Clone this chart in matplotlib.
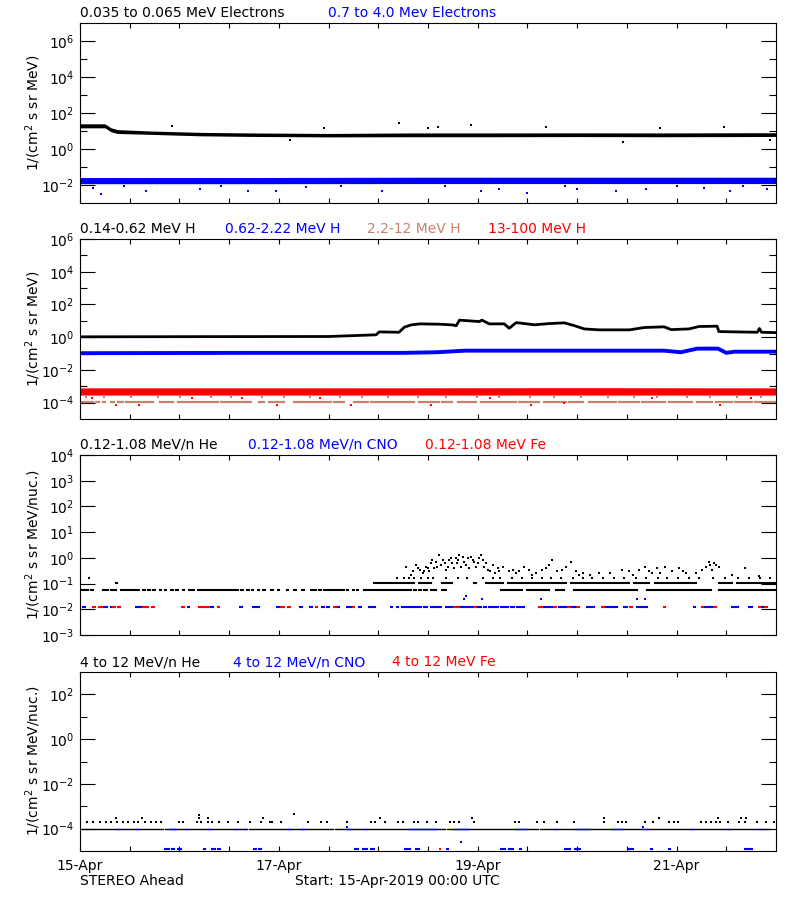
import math
import matplotlib
matplotlib.use('Agg')
import matplotlib.pyplot as plt
from matplotlib.ticker import FixedLocator, NullFormatter

plt.rcParams['font.family'] = ['DejaVu Sans']
plt.rcParams['mathtext.fontset'] = 'dejavusans'

BLACK = '#000000'
BLUE = '#0000ff'
RED = '#ff0000'
SIENNA = '#c8826a'

# ---------------- DATA (time axis: hours since 15-Apr-2019 00:00 UTC) ----------------
# Panel 1: electrons
p1_e_h = [0, 6, 7.5, 9, 17, 29, 41, 60, 80, 100, 120, 140, 160, 168]
p1_e_lo = [15, 15, 9, 7.3, 6.5, 5.4, 5.0, 4.7, 4.8, 4.8, 4.9, 4.8, 4.9, 5.0]
p1_e_hi = [25, 25, 15, 12, 10, 8.4, 7.8, 7.3, 7.8, 7.8, 7.9, 7.8, 8.0, 8.0]
p1_e_out_h = [22.2, 59.0, 77.1, 84.1, 86.5, 94.5, 112.5, 140.0, 155.4, 50.6, 131.0, 166.5]
p1_e_out_v = [18, 15, 29, 15, 17, 22, 16.6, 15, 16.6, 3.3, 2.6, 3.3]

p1_he_h = [0, 40, 80, 120, 168]
p1_he_lo = [0.0118, 0.0118, 0.012, 0.012, 0.012]
p1_he_hi = [0.026, 0.026, 0.027, 0.027, 0.027]
p1_he_out_h = [5.1, 3.1, 15.9, 28.9, 40.5, 47.2, 54.5, 73.0, 96.9, 101.2, 108.0, 120.0,
               129.4, 136.6, 150.6, 156.9, 165.8, 10.5, 34.0, 63.0, 88.0, 117.0, 144.0, 160.0]
p1_he_out_v = [0.0033, 0.0071, 0.0048, 0.0062, 0.0048, 0.0048, 0.0080, 0.0048, 0.0048, 0.0062,
               0.0038, 0.0062, 0.0048, 0.0062, 0.0071, 0.0048, 0.0062, 0.0088, 0.0090, 0.0088,
               0.0090, 0.0088, 0.0090, 0.0088]

# Panel 2: protons
p2_h1_h = [0, 30, 60, 68, 71.5, 72.2, 77, 78.3, 80, 82, 86.8, 90, 90.8, 91.6, 96.4, 97, 98.8,
           102.4, 103.6, 105.3, 109.7, 113.3, 116.9, 119.3, 121.7, 125.3, 132.6, 136.2, 141,
           142.7, 147, 149.4, 153.8, 154.2, 163.5, 164, 164.5, 168]
p2_h1_v = [1.05, 1.08, 1.1, 1.3, 1.4, 2.1, 2.0, 4.1, 5.7, 6.5, 6.2, 5.6, 5.0, 11, 9, 11, 6.5,
           6.5, 3.5, 7.8, 5.7, 6.8, 7.5, 5.1, 3.2, 2.8, 2.8, 3.9, 4.3, 2.9, 3.2, 4.5, 4.7, 2.2,
           2.0, 3.4, 2.0, 1.9]
p2_h2_h = [0, 40, 78, 86, 93, 112, 141, 145, 149, 154, 156, 158, 168]
p2_h2_v = [0.105, 0.11, 0.11, 0.12, 0.15, 0.15, 0.15, 0.12, 0.2, 0.2, 0.11, 0.13, 0.13]
p2_h4_h = [0, 60, 120, 168]
p2_h4_lo = [2.9e-4, 2.9e-4, 2.9e-4, 2.9e-4]
p2_h4_hi = [8.0e-4, 8.0e-4, 8.2e-4, 8.0e-4]
p2_h4_out_h = [8.7, 14.2, 47.5, 65.3, 84.8, 108.9, 116.9, 154.5, 3.0, 27.0, 39.0, 58.0, 99.0, 138.0, 162.0]
p2_h4_out_v = [7.6e-5, 7.6e-5, 7.6e-5, 7.6e-5, 7.6e-5, 7.6e-5, 1.0e-4, 7.6e-5,
               2.0e-4, 2.0e-4, 1.8e-4, 2.0e-4, 1.8e-4, 2.0e-4, 1.8e-4]
p2_h3_segs = [(0.3, 3.1), (3.9, 4.5), (5.5, 6.1), (7.5, 8.2), (9.2, 10.4), (11.2, 16.4),
              (17.0, 17.6), (19.2, 22.4), (23.6, 33.3), (34.1, 37.3), (37.9, 41.3),
              (43.3, 44.5), (45.7, 49.3), (51.7, 55.7), (56.2, 60.6), (61.4, 63.8),
              (66.2, 67.0), (67.7, 69.4), (70.2, 71.4), (72.0, 76.5), (77.1, 80.7),
              (81.9, 86.7), (87.5, 89.9), (91.2, 95.6), (96.8, 105.2), (106.0, 110.8),
              (112.0, 117.3), (118.1, 121.3), (122.9, 129.3), (130.1, 134.9), (135.7, 141.3),
              (142.1, 147.8), (149.0, 152.6), (153.4, 157.4), (158.2, 162.2), (163.0, 167.8)]
p2_h3_level = 1.05e-4
p2_h3_dot_h = [1.5, 5.8, 12.3, 18.9, 24.2, 31.7, 36.5, 43.9, 49.2, 55.6, 62.8, 68.1, 74.4,
               81.7, 88.3, 95.9, 101.2, 108.6, 114.3, 120.9, 127.5, 133.8, 139.2, 146.6,
               152.1, 158.7, 164.3]
p2_h3_dot_level = 2.1e-4

# Panel 3: 0.12-1.08 MeV/n ions
p3_he_l1 = 0.055
p3_he_l1_segs = [(0, 1.1), (1.5, 1.9), (2.7, 3.1), (5.5, 6.8), (7.6, 8.0), (8.4, 8.8), (10, 12.4),
                 (12.8, 13.2), (13.8, 14.2), (15.2, 15.6), (16.4, 16.8), (17.6, 18), (19.2, 19.6),
                 (20.4, 20.8), (22, 22.4), (23.2, 23.6), (24.8, 25.2), (26.3, 26.7), (27.2, 27.6),
                 (28.4, 29.1), (29.6, 30), (30.4, 31.2), (31.6, 38.1), (38.9, 39.3), (40.3, 40.7),
                 (41.4, 41.8), (42.9, 43.3), (44.2, 44.6), (46.1, 46.5), (47.7, 48.1), (49.9, 50.3),
                 (51.7, 52.1), (53.7, 54.1), (55.7, 56.1), (56.5, 56.9), (57.7, 58.1), (58.8, 63.8),
                 (64.4, 64.8), (65.8, 66.2), (66.8, 67.2), (68.6, 79.8), (80.6, 81), (81.8, 82.2),
                 (83, 83.8), (84.7, 85.9), (87.5, 88.3), (101.6, 106.8), (108, 113.2),
                 (114.8, 116.8), (119.2, 134.5), (136.9, 152.2), (154.2, 164.2), (164.6, 167.8)]
p3_he_l2 = 0.11
p3_he_l2_segs = [(8.8, 8.9), (36.9, 37.0), (46.3, 46.4), (64.2, 64.3), (71, 80.7), (81.9, 84.7),
                 (87.5, 89.9), (95.2, 95.6), (98, 102), (103.2, 117.3), (118.5, 132.5),
                 (133.7, 137.3), (138.9, 148.6), (154.2, 157.4), (158.6, 167.8)]
p3_he_l3 = 0.165
p3_he_l3_h = [2.2, 76.5, 78.2, 79.5, 80.6, 82.3, 84.0, 85.2, 88.4, 91.2, 93.5, 97.3, 99.8, 101.5,
              104.2, 106.6, 109.1, 111.5, 113.8, 116.2, 118.9, 121.4, 123.7, 126.3, 129.0, 131.2,
              134.1, 136.6, 139.4, 141.8, 144.3, 147.0, 149.5, 152.8, 155.6, 158.9, 161.4, 164.2,
              166.5]
p3_he_evt_h = [78.7, 79.9, 81.5, 82.7, 83.5, 84.7, 85.5, 85.9, 86.7, 87.1, 88.3, 89.1, 89.9, 90.8,
               91.6, 92.0, 92.8, 93.6, 94.4, 95.2, 96.0, 96.8, 97.6, 98.4, 99.6, 100.8, 102.0,
               103.6, 105.2, 107.2, 108.4, 110.0, 111.6, 113.2, 114.0, 115.2, 116.4, 117.2, 118.5,
               119.7, 121.3, 125.3, 130.9, 132.5, 134.9, 136.5, 138.1, 139.3, 141.3, 142.9, 144.6,
               146.2, 148.6, 151.0, 151.8, 152.6, 153.4, 154.2, 157.4, 160.6, 163.8,
               80.3, 81.0, 82.0, 83.0, 84.0, 84.3, 85.0, 86.2, 87.6, 88.0, 88.8, 89.5, 90.2, 91.0,
               91.3, 92.4, 93.2, 94.0, 94.8, 95.6, 96.4, 97.2, 98.0, 99.0, 100.2, 101.2, 104.5,
               106.0, 109.2, 112.4, 120.5, 123.0, 128.0, 133.5, 137.3, 140.0, 145.5, 150.2, 152.0,
               153.0]
p3_he_evt_v = [0.46, 0.22, 0.40, 0.26, 0.46, 0.62, 0.40, 0.72, 1.3, 0.54, 0.35, 0.84, 0.62, 0.98,
               1.3, 0.46, 0.72, 0.98, 1.1, 0.72, 0.62, 1.3, 0.46, 0.35, 0.54, 0.40, 0.46,
               0.30, 0.26, 0.46, 0.35, 0.26, 0.35, 0.54, 0.84, 0.30, 0.35, 0.46, 0.72,
               0.30, 0.26, 0.26, 0.35, 0.30, 0.35, 0.46, 0.26, 0.40, 0.46, 0.30, 0.40,
               0.26, 0.26, 0.46, 0.72, 0.35, 0.54, 0.46, 0.22, 0.40, 0.19,
               0.30, 0.54, 0.35, 0.30, 0.40, 0.30, 0.84, 0.46, 0.84, 0.62, 0.46, 1.0, 0.40, 0.62,
               0.84, 1.1, 0.54, 0.40, 0.84, 0.46, 0.98, 0.84, 0.62, 0.30, 0.26, 0.30, 0.35,
               0.30, 0.22, 0.40, 0.22, 0.22, 0.26, 0.22, 0.30, 0.26, 0.30, 0.35, 0.54,
               0.62]
p3_low_level = 0.012
p3_cno_segs = [(0.7, 1.3), (5.8, 6.4), (7.6, 8.0), (13.6, 15.2), (26, 26.4), (31.6, 32), (38.6, 39),
               (41.7, 43.3), (47.5, 48.1), (53.2, 53.6), (55.6, 56), (58.4, 58.8), (59.6, 60),
               (62.2, 62.6), (64.4, 65.4), (67.4, 67.8), (69.8, 70.2), (70.8, 71.2), (75, 75.4),
               (76.4, 76.8), (77.8, 80.6), (81, 82.2), (83, 83.7), (84.7, 87.1), (88.3, 89.9),
               (91.5, 94.7), (95.9, 96.7), (97.6, 98), (98.8, 100.8), (101.6, 103.2), (104, 104.8),
               (105.6, 107.2), (111.6, 114), (115.6, 117.6), (118.4, 119.6), (122.4, 124),
               (126.9, 129.7), (131.3, 132.1), (134.5, 136.9), (148.1, 148.5), (150.9, 152.6),
               (157.4, 157.8), (158.4, 158.8), (161.4, 162.2), (164.6, 165)]
p3_fe_segs = [(3.1, 3.7), (4.7, 5.3), (8.0, 8.4), (9.2, 9.6), (15.2, 16.4), (17.3, 17.8),
              (24.6, 25.1), (28.8, 31.2), (33.2, 33.5), (48.5, 49.3), (50.3, 50.7), (56.9, 57.3),
              (61.4, 61.8), (65.8, 66.2), (90.3, 91.5), (95, 95.5), (110.8, 111.6), (114.3, 114.8),
              (117.8, 118.3), (120, 120.4), (126, 126.5), (132.7, 133.3), (140.9, 141.3),
              (150.1, 150.5), (153, 153.6), (163.8, 164.2), (165.4, 165.8)]
p3_cno_hi_h = [92.7, 93.1, 97.0, 111.2, 134.5, 136.3]
p3_cno_hi_v = [0.026, 0.032, 0.026, 0.026, 0.026, 0.026]

# Panel 4: 4-12 MeV/n ions
p4_he_l1 = 2.0e-4
p4_he_l1_h = [1.7, 3.1, 4.9, 6.3, 7.6, 9.0, 10.3, 11.6, 13.0, 14.1, 15.7, 17.1, 18.4, 19.5, 23.8,
              24.9, 28.2, 29.2, 30.9, 31.9, 33.6, 35.7, 38.2, 41.1, 43.8, 45.8, 46.3, 48.5, 55.0,
              58.2, 59.5, 64.4, 70.3, 71.2, 73.6, 76.8, 77.9, 80.6, 81.7, 83.8, 86.0, 89.2, 90.3,
              91.4, 95.2, 104.9, 106.0, 110.3, 111.9, 115.2, 119.3, 126.5, 129.8, 130.9, 131.9,
              136.3, 138.4, 142.2, 143.3, 144.4, 150.0, 151.2, 152.3, 153.4, 154.6, 156.3, 159.0,
              160.6, 163.3, 165.5, 167.5]
p4_he_hi_h = [8.7, 15.0, 28.7, 30.9, 44.2, 51.7, 72.5, 94.6, 126.5, 139.8, 153.9, 159.5, 160.8, 28.7]
p4_he_hi_v = [3.1e-4, 3.1e-4, 3.1e-4, 3.1e-4, 3.1e-4, 4.3e-4, 3.1e-4, 3.1e-4, 3.1e-4, 3.1e-4,
              3.1e-4, 3.1e-4, 3.1e-4, 4.0e-4]
p4_line_level = 1.0e-4
p4_he_line_segs = [(0.5, 20), (20.6, 40.2), (40.8, 61), (61.5, 88), (88.6, 110.5), (111, 136),
                   (136.6, 166.5)]
p4_cno_line_segs = [(9.0, 9.4), (13.6, 14), (21.7, 22.1), (22.8, 23.2), (25.5, 25.9), (30.9, 31.3),
                    (37.4, 37.8), (39.5, 39.9), (50.3, 50.7), (53.6, 54), (64.4, 65.5), (68.7, 69.1),
                    (79.5, 86), (90.3, 93.6), (104.9, 107.6), (114.6, 115), (119.5, 122.8),
                    (128.2, 130.9), (135.8, 136.8), (147.6, 148), (156.3, 156.7), (163.9, 164.3)]
p4_low_level = 1.2e-5
p4_cno_low_segs = [(3.6, 3.7), (8.2, 8.3), (20.6, 21.4), (22.2, 22.6), (23.6, 24.4), (30, 30.1),
                   (31.9, 32.6), (33.2, 33.9), (39.5, 39.6), (41.9, 42.6), (43.2, 43.8), (48.2, 48.3),
                   (50.9, 51.0), (57.9, 58.0), (62, 62.1), (66.3, 67.2), (68.4, 69.2), (70.2, 70.9),
                   (78.4, 79.6), (81.2, 81.9), (84.4, 84.5), (88.7, 88.8), (91.4, 91.5), (97.4, 97.5),
                   (101.7, 102.6), (103.5, 104.4), (106.3, 106.4), (111.4, 111.5), (114.1, 114.2),
                   (117.1, 118.2), (119.4, 120.6), (123.8, 123.9), (132.3, 133.6), (137.9, 138.0),
                   (142.2, 142.3), (146.5, 146.6), (152.2, 152.3), (155.7, 155.8), (160.6, 162.2),
                   (164.4, 164.5)]
p4_cno_pts_h = [92.0, 64.4, 136.0]
p4_cno_pts_v = [2.5e-5, 1.2e-4, 1.2e-4]
p4_fe_pts_h = [86.9]
p4_fe_pts_v = [1.2e-5]

xtick_hours = [0, 12, 24, 36, 48, 60, 72, 84, 96, 108, 120, 132, 144, 156]
xtick_labels = ['15-Apr', '', '', '', '17-Apr', '', '', '', '19-Apr', '', '', '', '21-Apr', '']

# ---------------- FIGURE ----------------
W, H = 800, 900
fig = plt.figure(figsize=(8, 9), dpi=100)
FS = 10


def box(top, bottom):
    return [80 / W, 1 - bottom / H, (776 - 80) / W, (bottom - top) / H]


def ftext(x, y, s, color=BLACK, ha='left', **kw):
    fig.text(x / W, 1 - y / H, s, color=color, ha=ha, va='center', fontsize=FS, **kw)


def dots(ax, h, v, color, ms=1.7):
    ax.plot(h, v, ls='none', marker='s', ms=ms, mew=0, color=color)


def segs(ax, pairs, level, color, lw=1.5):
    ax.hlines([level] * len(pairs), [a for a, b in pairs], [b for a, b in pairs],
              colors=color, lw=lw, capstyle='projecting')


def style(ax, ylim, major, minor, labels_x=False):
    ax.set_xlim(0, 168)
    ax.set_yscale('log')
    ax.set_ylim(*ylim)
    ax.yaxis.set_major_locator(FixedLocator(major))
    ax.yaxis.set_minor_locator(FixedLocator(minor))
    ax.yaxis.set_minor_formatter(NullFormatter())
    ax.set_yticklabels(['$10^{%d}$' % int(round(math.log10(m))) for m in major])
    ax.set_xticks(xtick_hours)
    if labels_x:
        ax.set_xticklabels(xtick_labels)
    else:
        ax.set_xticklabels([])
    ax.tick_params(axis='y', which='major', direction='in', length=10.8, width=0.8,
                   left=True, right=True, labelsize=FS, pad=4)
    ax.tick_params(axis='y', which='minor', direction='in', length=5, width=0.8,
                   left=True, right=True)
    ax.tick_params(axis='x', which='major', direction='in', length=3.6, width=0.8,
                   top=True, bottom=True, labelsize=FS, pad=6)
    for sp in ax.spines.values():
        sp.set_linewidth(0.8)
    return ax


# Panel 1
ax1 = fig.add_axes(box(23, 203))
style(ax1, (1e-3, 1e7), [1e-2, 1e0, 1e2, 1e4, 1e6], [1e-1, 1e1, 1e3, 1e5])
ax1.fill_between(p1_e_h, p1_e_lo, p1_e_hi, color=BLACK, lw=0)
dots(ax1, p1_e_out_h, p1_e_out_v, BLACK)
ax1.fill_between(p1_he_h, p1_he_lo, p1_he_hi, color=BLUE, lw=0)
dots(ax1, p1_he_out_h, p1_he_out_v, BLUE)

# Panel 2
ax2 = fig.add_axes(box(239, 419))
style(ax2, (1e-5, 1e6), [1e-4, 1e-2, 1e0, 1e2, 1e4, 1e6], [1e-3, 1e-1, 1e1, 1e3, 1e5])
segs(ax2, p2_h3_segs, p2_h3_level, SIENNA, lw=1.6)
dots(ax2, p2_h3_dot_h, [p2_h3_dot_level] * len(p2_h3_dot_h), SIENNA)
ax2.fill_between(p2_h4_h, p2_h4_lo, p2_h4_hi, color=RED, lw=0)
dots(ax2, p2_h4_out_h, p2_h4_out_v, RED)
ax2.plot(p2_h2_h, p2_h2_v, color=BLUE, lw=2.8)
ax2.plot(p2_h1_h, p2_h1_v, color=BLACK, lw=2.0)

# Panel 3
ax3 = fig.add_axes(box(455, 635))
style(ax3, (1e-3, 1e4), [1e-3, 1e-2, 1e-1, 1e0, 1e1, 1e2, 1e3, 1e4], [])
segs(ax3, p3_he_l1_segs, p3_he_l1, BLACK)
segs(ax3, p3_he_l2_segs, p3_he_l2, BLACK)
dots(ax3, p3_he_l3_h, [p3_he_l3] * len(p3_he_l3_h), BLACK)
dots(ax3, p3_he_evt_h, p3_he_evt_v, BLACK, ms=2.0)
segs(ax3, p3_cno_segs, p3_low_level, BLUE)
segs(ax3, p3_fe_segs, p3_low_level, RED)
dots(ax3, p3_cno_hi_h, p3_cno_hi_v, BLUE)

# Panel 4
ax4 = fig.add_axes(box(672, 851))
style(ax4, (1e-5, 1e3), [1e-4, 1e-2, 1e0, 1e2], [1e-3, 1e-1, 1e1], labels_x=True)
segs(ax4, p4_he_line_segs, p4_line_level, BLACK, lw=1.0)
segs(ax4, p4_cno_line_segs, p4_line_level, BLUE, lw=1.0)
dots(ax4, p4_he_l1_h, [p4_he_l1] * len(p4_he_l1_h), BLACK)
dots(ax4, p4_he_hi_h, p4_he_hi_v, BLACK)
segs(ax4, p4_cno_low_segs, p4_low_level, BLUE)
dots(ax4, p4_cno_pts_h, p4_cno_pts_v, BLUE)
dots(ax4, p4_fe_pts_h, p4_fe_pts_v, RED)

# Titles (coloured legend text above each panel)
ftext(80, 13, '0.035 to 0.065 MeV Electrons')
ftext(328, 13, '0.7 to 4.0 Mev Electrons', BLUE)
ftext(80, 229, '0.14-0.62 MeV H')
ftext(225, 229, '0.62-2.22 MeV H', BLUE)
ftext(367, 229, '2.2-12 MeV H', SIENNA)
ftext(488, 229, '13-100 MeV H', RED)
ftext(80, 445, '0.12-1.08 MeV/n He')
ftext(248, 445, '0.12-1.08 MeV/n CNO', BLUE)
ftext(425, 445, '0.12-1.08 MeV Fe', RED)
ftext(80, 662, '4 to 12 MeV/n He')
ftext(233, 662, '4 to 12 MeV/n CNO', BLUE)
ftext(392, 662, '4 to 12 MeV Fe', RED)

# Y labels
for yc, s in [(113, '1/(cm$^2$ s sr MeV)'), (329, '1/(cm$^2$ s sr MeV)'),
              (545, '1/(cm$^2$ s sr MeV/nuc.)'), (761, '1/(cm$^2$ s sr MeV/nuc.)')]:
    fig.text(33 / W, 1 - yc / H, s, rotation=90, ha='center', va='center', fontsize=FS)

ftext(80, 881, 'STEREO Ahead')
ftext(295, 881, 'Start: 15-Apr-2019 00:00 UTC')

fig.savefig('out.png', dpi=100, facecolor='white')
